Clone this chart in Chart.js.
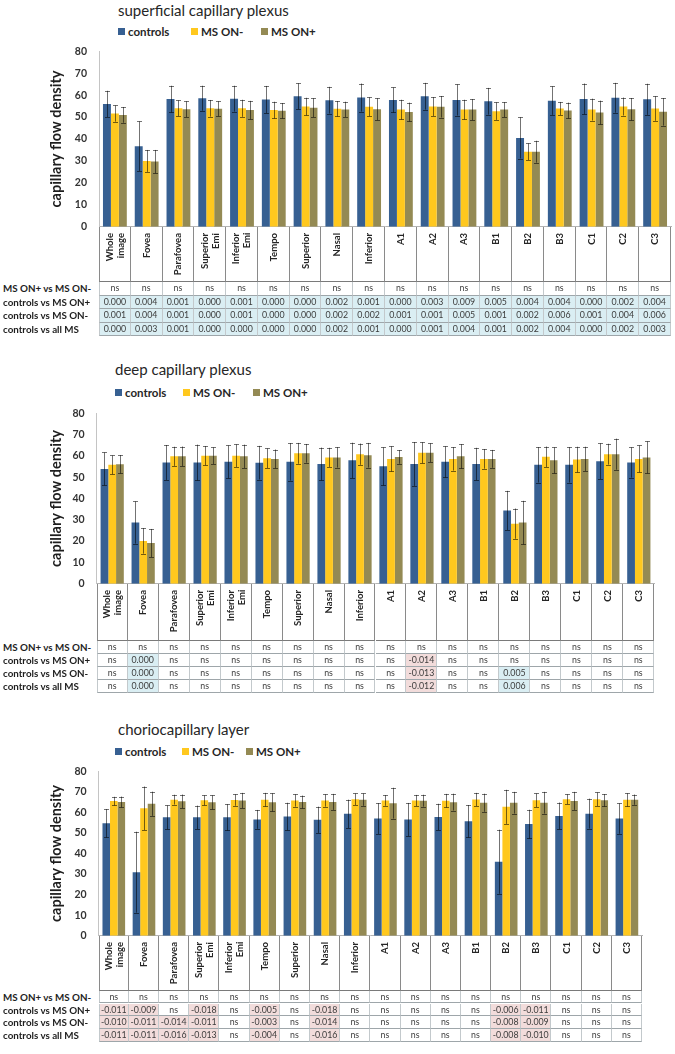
<!DOCTYPE html>
<html>
<head>
<meta charset="utf-8">
<script src="https://cdn.jsdelivr.net/npm/chart.js@4.4.1/dist/chart.umd.min.js"></script>
<style>
  body { margin: 0; width: 675px; height: 1054px; position: relative; overflow: hidden; background: #fff;
         font-family: Lato, "Open Sans", sans-serif; color: #262626; }
  .ptitle { position: absolute; font-size: 15px; white-space: nowrap; line-height: 18px; }
  .lg { position: absolute; font-size: 11.5px; font-weight: bold; white-space: nowrap; line-height: 14px; }
  .lg i { display: inline-block; width: 7px; height: 7px; margin-right: 3px; vertical-align: 1px; }
  canvas { position: absolute; left: 0; }
  .hd { position: absolute; box-sizing: border-box; border-right: 1px solid #8a8a8a;
        display: flex; justify-content: center; align-items: flex-start; padding-top: 6px; }
  .hd b { writing-mode: vertical-rl; transform: rotate(180deg); text-align: end;
          font-size: 9.5px; line-height: 11px; white-space: nowrap; }
  .cell { position: absolute; box-sizing: border-box; text-align: center; font-size: 8.8px; color: #3c3c3c;
          border-right: 1px solid #c3c9cc; border-bottom: 1px solid #9ea6aa; white-space: nowrap; }
  .rl { position: absolute; left: 3px; font-size: 9.8px; font-weight: bold; white-space: nowrap; color: #1e1e1e; }
</style>
</head>
<body>
<script>
// ---- categories (shared by all three plots) ----
const CATEGORIES = [['Whole', 'image'], 'Fovea', 'Parafovea', ['Superior', 'Emi'], ['Inferior', 'Emi'], 'Tempo',
  'Superior', 'Nasal', 'Inferior', 'A1', 'A2', 'A3', 'B1', 'B2', 'B3', 'C1', 'C2', 'C3'];
const SERIES = ['controls', 'MS ON-', 'MS ON+'];
const ROW_LABELS = ['MS ON+ vs MS ON-', 'controls vs MS ON+', 'controls vs MS ON-', 'controls vs all MS'];

// ---- superficial capillary plexus ----
const SCP_CONTROLS = [56.0, 36.7, 58.2, 58.6, 58.4, 58.0, 59.5, 57.7, 58.9, 57.8, 59.5, 57.8, 57.2, 40.5, 57.5, 58.3, 58.8, 58.1];
const SCP_CONTROLS_SD = [6.0, 11.3, 6.1, 5.7, 5.9, 6.2, 5.9, 6.1, 6.4, 5.7, 6.1, 7.1, 6.1, 9.4, 6.5, 7.0, 6.8, 7.1];
const SCP_ON_NEG = [51.6, 30.0, 54.0, 54.0, 54.0, 53.2, 54.8, 53.8, 54.7, 53.4, 54.8, 53.4, 52.7, 34.2, 53.9, 53.4, 54.8, 53.9];
const SCP_ON_NEG_SD = [3.7, 5.0, 3.6, 3.8, 3.9, 3.8, 4.0, 3.5, 4.3, 4.5, 4.3, 4.5, 4.0, 3.8, 3.0, 5.0, 4.1, 5.6];
const SCP_ON_POS = [51.0, 29.7, 53.6, 53.8, 53.2, 52.9, 54.3, 53.5, 53.6, 52.3, 54.7, 53.4, 53.4, 34.2, 53.0, 52.1, 53.6, 52.4];
const SCP_ON_POS_SD = [3.6, 5.3, 3.6, 3.4, 4.2, 3.5, 4.3, 3.5, 5.0, 4.3, 4.9, 4.8, 3.4, 5.0, 3.6, 5.4, 5.1, 6.3];
const SCP_TABLE = [
  ['ns', 'ns', 'ns', 'ns', 'ns', 'ns', 'ns', 'ns', 'ns', 'ns', 'ns', 'ns', 'ns', 'ns', 'ns', 'ns', 'ns', 'ns'],
  ['0.000', '0.004', '0.001', '0.000', '0.001', '0.000', '0.000', '0.002', '0.001', '0.000', '0.003', '0.009', '0.005', '0.004', '0.004', '0.000', '0.002', '0.004'],
  ['0.001', '0.004', '0.001', '0.000', '0.001', '0.000', '0.000', '0.002', '0.002', '0.001', '0.001', '0.005', '0.001', '0.002', '0.006', '0.001', '0.004', '0.006'],
  ['0.000', '0.003', '0.001', '0.000', '0.000', '0.000', '0.000', '0.002', '0.001', '0.000', '0.001', '0.004', '0.001', '0.002', '0.004', '0.000', '0.002', '0.003'],
];

// ---- deep capillary plexus ----
const DCP_CONTROLS = [53.9, 28.7, 56.9, 56.9, 57.2, 56.8, 57.2, 56.2, 57.9, 55.1, 56.2, 57.2, 56.2, 34.4, 55.8, 55.8, 57.5, 56.9];
const DCP_CONTROLS_SD = [7.7, 9.9, 8.2, 8.4, 7.7, 7.9, 8.8, 7.7, 8.3, 8.9, 10.3, 7.3, 7.6, 9.2, 8.3, 8.3, 8.4, 7.1];
const DCP_ON_NEG = [55.8, 20.1, 59.8, 60.1, 60.1, 58.9, 61.2, 59.3, 60.8, 58.6, 61.5, 58.6, 58.6, 28.2, 59.6, 58.3, 60.8, 58.6];
const DCP_ON_NEG_SD = [4.4, 6.0, 4.5, 4.5, 5.3, 4.6, 4.9, 4.5, 5.0, 5.9, 4.9, 5.5, 4.6, 7.1, 4.8, 6.0, 4.9, 6.3];
const DCP_ON_POS = [56.1, 19.1, 59.8, 60.1, 59.8, 58.6, 61.2, 59.3, 60.3, 59.5, 61.5, 59.8, 58.6, 28.7, 57.9, 58.6, 60.8, 59.3];
const DCP_ON_POS_SD = [4.3, 6.6, 4.6, 3.9, 5.5, 4.4, 4.4, 4.8, 5.8, 3.2, 4.4, 5.7, 4.2, 10.2, 6.1, 5.7, 7.3, 7.5];
const DCP_TABLE = [
  ['ns', 'ns', 'ns', 'ns', 'ns', 'ns', 'ns', 'ns', 'ns', 'ns', 'ns', 'ns', 'ns', 'ns', 'ns', 'ns', 'ns', 'ns'],
  ['ns', '0.000', 'ns', 'ns', 'ns', 'ns', 'ns', 'ns', 'ns', 'ns', '-0.014', 'ns', 'ns', 'ns', 'ns', 'ns', 'ns', 'ns'],
  ['ns', '0.000', 'ns', 'ns', 'ns', 'ns', 'ns', 'ns', 'ns', 'ns', '-0.013', 'ns', 'ns', '0.005', 'ns', 'ns', 'ns', 'ns'],
  ['ns', '0.000', 'ns', 'ns', 'ns', 'ns', 'ns', 'ns', 'ns', 'ns', '-0.012', 'ns', 'ns', '0.006', 'ns', 'ns', 'ns', 'ns'],
];

// ---- choriocapillary layer ----
const CC_CONTROLS = [54.7, 30.9, 57.6, 57.6, 57.6, 56.6, 58.0, 56.4, 59.3, 57.0, 56.5, 57.8, 55.7, 36.0, 54.3, 58.3, 59.4, 57.0];
const CC_CONTROLS_SD = [6.9, 19.7, 5.8, 5.7, 6.4, 4.6, 6.7, 6.4, 6.9, 7.5, 8.1, 6.4, 7.9, 15.6, 7.0, 6.5, 7.3, 7.4];
const CC_ON_NEG = [65.5, 62.0, 66.2, 65.9, 66.0, 66.2, 65.8, 65.8, 66.4, 65.8, 65.8, 65.7, 66.3, 62.7, 65.9, 66.4, 66.4, 66.1];
const CC_ON_NEG_SD = [2.1, 10.6, 2.4, 2.4, 2.8, 3.3, 3.0, 3.0, 2.8, 2.6, 2.7, 3.3, 3.2, 8.3, 3.3, 2.4, 3.3, 3.2];
const CC_ON_POS = [65.1, 64.2, 65.4, 64.9, 65.8, 64.9, 65.1, 65.1, 66.2, 64.5, 65.7, 65.0, 64.7, 64.7, 64.7, 65.6, 65.9, 66.2];
const CC_ON_POS_SD = [2.6, 5.9, 3.3, 3.4, 3.7, 4.4, 3.1, 3.9, 3.0, 7.5, 2.9, 4.1, 4.4, 5.3, 5.3, 4.4, 3.0, 2.5];
const CC_TABLE = [
  ['ns', 'ns', 'ns', 'ns', 'ns', 'ns', 'ns', 'ns', 'ns', 'ns', 'ns', 'ns', 'ns', 'ns', 'ns', 'ns', 'ns', 'ns'],
  ['-0.011', '-0.009', 'ns', '-0.018', 'ns', '-0.005', 'ns', '-0.018', 'ns', 'ns', 'ns', 'ns', 'ns', '-0.006', '-0.011', 'ns', 'ns', 'ns'],
  ['-0.010', '-0.011', '-0.014', '-0.011', 'ns', '-0.003', 'ns', '-0.014', 'ns', 'ns', 'ns', 'ns', 'ns', '-0.008', '-0.009', 'ns', 'ns', 'ns'],
  ['-0.011', '-0.011', '-0.016', '-0.013', 'ns', '-0.004', 'ns', '-0.016', 'ns', 'ns', 'ns', 'ns', 'ns', '-0.008', '-0.010', 'ns', 'ns', 'ns'],
];

const COLORS = ['#376092', '#FFC81E', '#948A54'];
const CELL_POS = '#DAEEF3';
const CELL_NEG = '#F2DCDB';

/* ---- panel layout (page coordinates) ---- */
const PANELS = [
  { title: 'superficial capillary plexus', titleX: 118, titleY: 10, legendX: 118, legendY: 31.7, legendGap: [0, 73, 143],
    area: { left: 99, right: 671, top: 43.3, bottom: 235.3 }, headH: 55, rowH: 13.5,
    means: [SCP_CONTROLS, SCP_ON_NEG, SCP_ON_POS], sds: [SCP_CONTROLS_SD, SCP_ON_NEG_SD, SCP_ON_POS_SD], table: SCP_TABLE },
  { title: 'deep capillary plexus', titleX: 115, titleY: 369, legendX: 115, legendY: 393.3, legendGap: [0, 68, 138],
    area: { left: 96.7, right: 654.3, top: 405, bottom: 592.3 }, headH: 57, rowH: 13.2,
    means: [DCP_CONTROLS, DCP_ON_NEG, DCP_ON_POS], sds: [DCP_CONTROLS_SD, DCP_ON_NEG_SD, DCP_ON_POS_SD], table: DCP_TABLE },
  { title: 'choriocapillary layer', titleX: 118, titleY: 729, legendX: 115, legendY: 751.7, legendGap: [0, 67, 131],
    area: { left: 98.7, right: 642, top: 763, bottom: 944 }, headH: 55, rowH: 12.8,
    means: [CC_CONTROLS, CC_ON_NEG, CC_ON_POS], sds: [CC_CONTROLS_SD, CC_ON_NEG_SD, CC_ON_POS_SD], table: CC_TABLE },
];

/* ---- error bars drawn from each dataset's sd array ---- */
const errorBars = {
  id: 'errorBars',
  afterDatasetsDraw(chart) {
    const { ctx, scales: { y } } = chart;
    ctx.save();
    ctx.strokeStyle = 'rgba(0,0,0,0.55)';
    ctx.lineWidth = 1;
    chart.data.datasets.forEach((ds, i) => {
      chart.getDatasetMeta(i).data.forEach((bar, j) => {
        const m = ds.data[j], s = ds.sd[j];
        const top = y.getPixelForValue(m + s);
        const bot = y.getPixelForValue(m - s);
        const x = Math.round(bar.x) + 0.5;
        ctx.beginPath();
        ctx.moveTo(x, top); ctx.lineTo(x, bot);
        ctx.moveTo(x - 2.5, Math.round(top) + 0.5); ctx.lineTo(x + 2.5, Math.round(top) + 0.5);
        ctx.moveTo(x - 2.5, Math.round(bot) + 0.5); ctx.lineTo(x + 2.5, Math.round(bot) + 0.5);
        ctx.stroke();
      });
    });
    ctx.restore();
  }
};

function el(cls, css, html) {
  const d = document.createElement('div');
  d.className = cls;
  Object.assign(d.style, css);
  if (html != null) d.innerHTML = html;
  document.body.appendChild(d);
  return d;
}

function renderPanel(p) {
  // title + legend
  el('ptitle', { left: p.titleX + 'px', top: (p.titleY - 9) + 'px' }, p.title);
  SERIES.forEach((s, i) => {
    el('lg', { left: (p.legendX + p.legendGap[i]) + 'px', top: (p.legendY - 7) + 'px' },
      `<i style="background:${COLORS[i]}"></i>${s}`);
  });

  // chart
  const pad = 10;
  const canvas = document.createElement('canvas');
  canvas.width = 675;
  canvas.height = Math.round(p.area.bottom - p.area.top + 2 * pad);
  canvas.style.top = (p.area.top - pad) + 'px';
  document.body.appendChild(canvas);

  const chart = new Chart(canvas, {
    type: 'bar',
    data: {
      labels: CATEGORIES.map((c) => Array.isArray(c) ? c.join(' ') : c),
      datasets: SERIES.map((s, i) => ({
        label: s,
        data: p.means[i],
        sd: p.sds[i],
        backgroundColor: COLORS[i],
        borderWidth: 0,
      })),
    },
    options: {
      responsive: false,
      animation: false,
      layout: { padding: { left: 0, right: 675 - p.area.right, top: pad, bottom: pad } },
      datasets: { bar: { categoryPercentage: 0.75, barPercentage: 1.0 } },
      plugins: { legend: { display: false }, title: { display: false }, tooltip: { enabled: false } },
      scales: {
        x: {
          ticks: { display: false },
          grid: { display: false, drawTicks: false },
          border: { display: true, color: '#b4b4b4' },
        },
        y: {
          min: 0, max: 80,
          ticks: { stepSize: 10, padding: 12, color: '#333', font: { family: 'Lato', size: 10.5, weight: 'bold' } },
          grid: { display: false, drawTicks: false },
          border: { display: true, color: '#c4c4c4' },
          title: { display: true, text: 'capillary flow density', color: '#1e1e1e',
                   font: { family: 'Lato', size: 14.5, weight: 'bold' }, padding: { top: 48, bottom: 0 } },
          afterFit: (axis) => { axis.width = p.area.left; },
        },
      },
    },
    plugins: [errorBars],
  });

  // table under the axis, columns aligned with the category scale
  const area = chart.chartArea;
  const left = area.left;
  const colW = (area.right - area.left) / CATEGORIES.length;
  const top0 = p.area.top - pad + area.bottom;

  CATEGORIES.forEach((c, j) => {
    const txt = Array.isArray(c) ? c.join('<br>') : c;
    el('hd', { left: (left + j * colW) + 'px', top: top0 + 'px', width: colW + 'px', height: p.headH + 'px',
      borderLeft: j === 0 ? '1px solid #8a8a8a' : 'none', borderBottom: '1px solid #7a7a7a' }, `<b>${txt}</b>`);
  });

  p.table.forEach((row, r) => {
    const y = top0 + p.headH + r * p.rowH;
    el('rl', { top: y + 'px', lineHeight: p.rowH + 'px' }, ROW_LABELS[r]);
    row.forEach((v, j) => {
      const bg = v === 'ns' ? '#fff' : (v.startsWith('-') ? CELL_NEG : CELL_POS);
      el('cell', { left: (left + j * colW) + 'px', top: y + 'px', width: colW + 'px', height: p.rowH + 'px',
        lineHeight: (p.rowH - 1) + 'px', background: bg, borderLeft: j === 0 ? '1px solid #c3c9cc' : 'none' }, v);
    });
  });
}

PANELS.forEach(renderPanel);
</script>
</body>
</html>
